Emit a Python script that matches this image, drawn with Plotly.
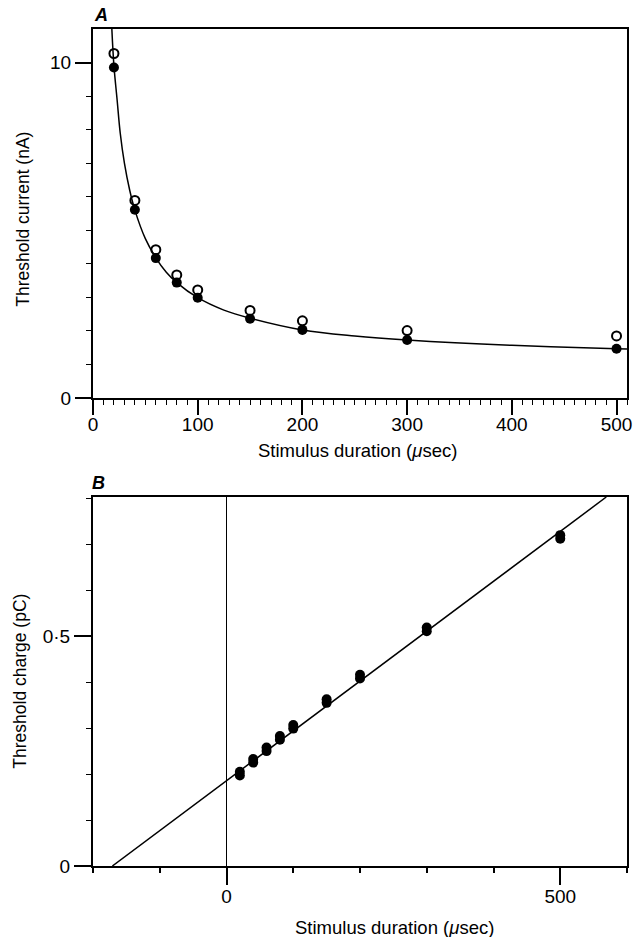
import plotly.graph_objects as go

# ---- Panel A data: threshold current (nA) vs stimulus duration (usec)
durations = [20, 40, 60, 80, 100, 150, 200, 300, 500]
current_filled = [9.85, 5.61, 4.17, 3.44, 2.99, 2.36, 2.03, 1.73, 1.47]
current_open = [10.27, 5.89, 4.42, 3.67, 3.22, 2.61, 2.30, 2.01, 1.85]

# fitted strength-duration curve
curve_t = [18, 20, 23, 26, 30, 35, 40, 50, 60, 70, 80, 100, 125, 150, 200, 250, 300, 400, 500, 510]
curve_i = [11.0, 9.9, 8.9, 7.9, 7.0, 6.2, 5.6, 4.75, 4.18, 3.75, 3.44, 2.99, 2.62, 2.38, 2.03, 1.85, 1.73, 1.57, 1.47, 1.46]

# ---- Panel B data: threshold charge (pC) vs stimulus duration (usec)
charge_a = [0.197, 0.225, 0.250, 0.275, 0.299, 0.355, 0.408, 0.511, 0.712]
charge_b = [0.205, 0.233, 0.258, 0.283, 0.307, 0.363, 0.416, 0.519, 0.720]
fit_t = [-171, 569]
fit_q = [0.0, 0.803]

# tick definitions
a_x_major = [0, 100, 200, 300, 400, 500]
a_x_minor = list(range(0, 511, 10))
a_y_major = [0, 10]
a_y_major_text = ["0", "10"]
a_y_minor = list(range(0, 11))
b_x_major = [0, 500]
b_x_major_text = ["0", "500"]
b_x_minor = [-200, -100, 0, 100, 200, 300, 400, 500, 600]
b_y_major = [0, 0.5]
b_y_major_text = ["0", "0·5"]
b_y_minor = [0, 0.1, 0.2, 0.3, 0.4, 0.5, 0.6, 0.7, 0.8]

FONT = "Liberation Sans, Arial, sans-serif"
fig = go.Figure()

# Panel A
fig.add_trace(go.Scatter(x=curve_t, y=curve_i, mode="lines", line=dict(color="black", width=1.5, shape="spline"),
                         xaxis="x", yaxis="y", showlegend=False, hoverinfo="skip"))
fig.add_trace(go.Scatter(x=durations, y=current_open, mode="markers",
                         marker=dict(symbol="circle-open", size=9, color="black", line=dict(width=2, color="black")),
                         xaxis="x", yaxis="y", showlegend=False, cliponaxis=False))
fig.add_trace(go.Scatter(x=durations, y=current_filled, mode="markers",
                         marker=dict(symbol="circle", size=10, color="black"),
                         xaxis="x", yaxis="y", showlegend=False, cliponaxis=False))

# Panel B
fig.add_trace(go.Scatter(x=fit_t, y=fit_q, mode="lines", line=dict(color="black", width=1.5),
                         xaxis="x2", yaxis="y2", showlegend=False))
fig.add_trace(go.Scatter(x=durations, y=charge_a, mode="markers",
                         marker=dict(symbol="circle", size=10, color="black"),
                         xaxis="x2", yaxis="y2", showlegend=False))
fig.add_trace(go.Scatter(x=durations, y=charge_b, mode="markers",
                         marker=dict(symbol="circle", size=10, color="black"),
                         xaxis="x2", yaxis="y2", showlegend=False))

common = dict(showline=True, linecolor="black", linewidth=2, mirror=True, showgrid=False,
              ticks="outside", tickcolor="black", tickwidth=1.5,
              tickfont=dict(family=FONT, size=19, color="black"))

top_dom = [(866 - 398) / 837, 1.0]
bot_dom = [0.0, (866 - 497) / 837]

fig.update_layout(
    width=637, height=937,
    margin=dict(l=93, r=5, t=29, b=71),
    paper_bgcolor="white", plot_bgcolor="white",
    font=dict(family=FONT, color="black"),
    xaxis=dict(**common, range=[0, 510], domain=[0, 1], anchor="y", zeroline=False,
               tickmode="array", tickvals=a_x_major, ticklen=15, ticklabelstandoff=-7,
               minor=dict(tickmode="array", tickvals=a_x_minor, ticks="outside", ticklen=5,
                          tickcolor="black", tickwidth=1.2, showgrid=False)),
    yaxis=dict(**common, range=[0, 11], domain=top_dom, anchor="x", zeroline=False,
               tickmode="array", tickvals=a_y_major, ticktext=a_y_major_text, ticklen=16,
               minor=dict(tickmode="array", tickvals=a_y_minor, ticks="outside", ticklen=5,
                          tickcolor="black", tickwidth=1.2, showgrid=False)),
    xaxis2=dict(**common, range=[-200, 600], domain=[0, 1], anchor="y2",
                zeroline=True, zerolinecolor="black", zerolinewidth=1.2,
                tickmode="array", tickvals=b_x_major, ticktext=b_x_major_text, ticklen=17,
                ticklabelstandoff=-5,
                minor=dict(tickmode="array", tickvals=b_x_minor, ticks="outside", ticklen=5,
                           tickcolor="black", tickwidth=1.5, showgrid=False)),
    yaxis2=dict(**common, range=[0, 0.803], domain=bot_dom, anchor="x2", zeroline=False,
                tickmode="array", tickvals=b_y_major, ticktext=b_y_major_text, ticklen=17,
                minor=dict(tickmode="array", tickvals=b_y_minor, ticks="outside", ticklen=5,
                           tickcolor="black", tickwidth=1.2, showgrid=False)),
)

def ann(text, x, y, size=16, angle=0, italic=False, bold=False):
    t = text
    if bold:
        t = "<b>" + t + "</b>"
    if italic:
        t = "<i>" + t + "</i>"
    fig.add_annotation(text=t, x=x, y=y, xref="paper", yref="paper", showarrow=False,
                       textangle=angle, xanchor="center", yanchor="middle",
                       font=dict(family=FONT, size=size, color="black"))

ann("Stimulus duration (<i>μ</i>sec)", (360 - 93) / 539, (866 - 451) / 837, size=18.5)
ann("Stimulus duration (<i>μ</i>sec)", (397 - 93) / 539, (866 - 927) / 837, size=18.5)
ann("Threshold current (nA)", (22 - 93) / 539, (866 - 219) / 837, size=17.5, angle=-90)
ann("Threshold charge (pC)", (19 - 93) / 539, (866 - 681) / 837, size=17.5, angle=-90)
ann("A", (101 - 93) / 539, (866 - 15) / 837, size=18, italic=True, bold=True)
ann("B", (99 - 93) / 539, (866 - 483) / 837, size=18, italic=True, bold=True)

fig.write_html("out.html")
